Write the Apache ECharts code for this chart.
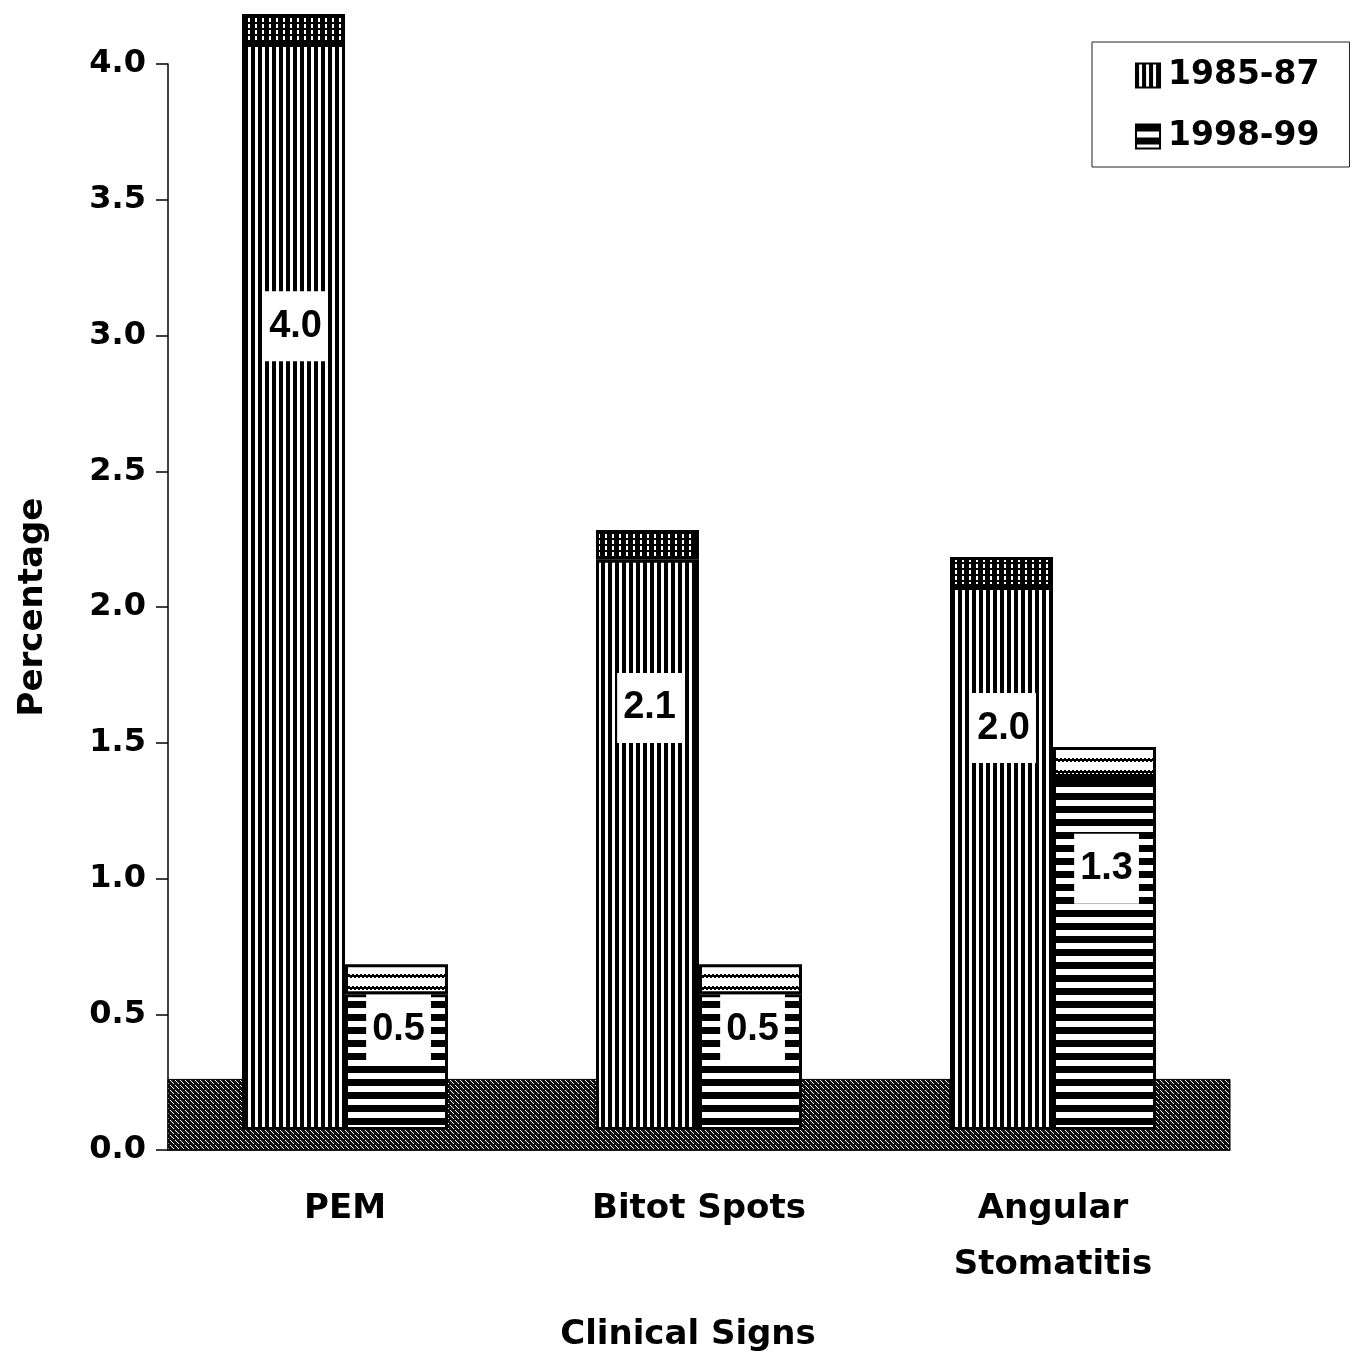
<!DOCTYPE html>
<html lang="en">
<head>
    <meta charset="UTF-8">
    <title>Clinical Signs</title>
    <script src="https://cdn.jsdelivr.net/npm/echarts@6/dist/echarts.min.js"></script>
    <style>
        body { margin: 0; background: #fff; }
    </style>
</head>
<body>
<div id="main" style="width: 1353px;height:1363px;"></div>
<script>
    // data
    var categories = ['PEM', 'Bitot Spots', 'Angular\nStomatitis'];
    var v1985 = [4.0, 2.1, 2.0];
    var v1998 = [0.5, 0.5, 1.3];
    var seriesNames = ['1985-87', '1998-99'];

    // fake 3d look: bars float a little above 0 and carry a cap on top
    var BASE = 0.074;
    var CAP = 0.11;
    var FLOOR = 0.26;

    function makePattern(w, h, draw) {
        var c = document.createElement('canvas');
        c.width = w;
        c.height = h;
        draw(c.getContext('2d'), w, h);
        return {image: c, repeat: 'repeat'};
    }

    var vStripes = makePattern(7, 8, function (ctx, w, h) {
        ctx.fillStyle = '#000';
        ctx.fillRect(0, 0, w, h);
        ctx.fillStyle = '#fff';
        ctx.fillRect(3, 0, 3, h);
    });
    var vDots = makePattern(7, 6, function (ctx, w, h) {
        ctx.fillStyle = '#000';
        ctx.fillRect(0, 0, w, h);
        ctx.fillStyle = '#fff';
        ctx.fillRect(3, 0, 2, 4);
    });
    var hStripes = makePattern(8, 13, function (ctx, w, h) {
        ctx.fillStyle = '#fff';
        ctx.fillRect(0, 0, w, h);
        ctx.fillStyle = '#000';
        ctx.fillRect(0, 0, w, 7);
    });
    var hCap = makePattern(8, 12, function (ctx, w, h) {
        ctx.fillStyle = '#fff';
        ctx.fillRect(0, 0, w, h);
        ctx.fillStyle = '#000';
        for (var x = 0; x < w; x++) {
            ctx.fillRect(x, (x % 4 < 2) ? 2 : 3, 1, 3);
        }
    });
    var floorPat = makePattern(5, 5, function (ctx, w, h) {
        ctx.fillStyle = '#111';
        ctx.fillRect(0, 0, w, h);
        ctx.fillStyle = '#fff';
        for (var i = 0; i < 4; i++) {
            ctx.fillRect(i, i, 1, 1);
        }
    });

    function fill(n, v) {
        var a = [];
        for (var i = 0; i < n; i++) a.push(v);
        return a;
    }

    var font = 'DejaVu Sans';
    var labelStyle = {
        show: true,
        position: ['52%', '26%'],
        align: 'center',
        verticalAlign: 'middle',
        formatter: function (p) { return p.value.toFixed(1); },
        fontFamily: 'Liberation Sans',
        fontSize: 38,
        fontWeight: 'bold',
        color: '#000',
        backgroundColor: '#fff',
        padding: [17, 6, 15, 6]
    };

    function group(name, values, face, cap, stack) {
        return [{
            name: name + ' base',
            type: 'bar',
            stack: stack,
            barWidth: 103,
            barGap: '0%',
            clip: false,
            silent: true,
            itemStyle: {color: 'transparent'},
            data: fill(values.length, BASE)
        }, {
            name: name,
            type: 'bar',
            stack: stack,
            barWidth: 103,
            barGap: '0%',
            clip: false,
            itemStyle: {color: face, borderColor: '#000', borderWidth: 3},
            label: labelStyle,
            data: values
        }, {
            name: name + ' cap',
            type: 'bar',
            stack: stack,
            barWidth: 103,
            barGap: '0%',
            clip: false,
            silent: true,
            itemStyle: {color: cap, borderColor: '#000', borderWidth: 3},
            data: fill(values.length, CAP)
        }];
    }

    var series = [].concat(
        group(seriesNames[0], v1985, vStripes, vDots, 'a'),
        group(seriesNames[1], v1998, hStripes, hCap, 'b')
    );
    // floor slab behind the bars
    series[0].markArea = {
        silent: true,
        itemStyle: {color: floorPat, borderColor: '#000', borderWidth: 1},
        data: [[{yAxis: 0}, {yAxis: FLOOR}]]
    };

    var myChart = echarts.init(document.getElementById('main'));
    var option = {
        animation: false,
        backgroundColor: '#fff',
        textStyle: {fontFamily: font},
        grid: {left: 168, right: 123, top: 64, bottom: 213},
        legend: {
            data: seriesNames,
            orient: 'vertical',
            left: 1092,
            top: 42,
            padding: [17, 30, 14, 43],
            itemGap: 28,
            itemWidth: 24,
            itemHeight: 24,
            icon: 'rect',
            backgroundColor: '#fff',
            borderColor: '#222',
            borderWidth: 1,
            itemStyle: {borderWidth: 2},
            textStyle: {fontFamily: font, fontSize: 33, fontWeight: 'bold', color: '#000', padding: [0, 0, 0, 3]}
        },
        xAxis: {
            type: 'category',
            data: categories,
            name: 'Clinical Signs',
            nameLocation: 'middle',
            nameGap: 168,
            nameTextStyle: {fontFamily: font, fontSize: 34, fontWeight: 'bold', color: '#000', padding: [0, 22, 0, 0]},
            axisLine: {lineStyle: {color: '#000', width: 1.5}},
            axisTick: {length: 15, lineStyle: {color: '#000', width: 1.5}},
            axisLabel: {
                margin: 31,
                fontFamily: font,
                fontSize: 34,
                fontWeight: 'bold',
                color: '#000',
                lineHeight: 56
            }
        },
        yAxis: {
            type: 'value',
            min: 0,
            max: 4,
            interval: 0.5,
            name: 'Percentage',
            nameLocation: 'middle',
            nameGap: 118,
            nameTextStyle: {fontFamily: font, fontSize: 34, fontWeight: 'bold', color: '#000'},
            axisLine: {show: true, lineStyle: {color: '#000', width: 1.5}},
            axisTick: {show: true, length: 12, lineStyle: {color: '#000', width: 1.5}},
            splitLine: {show: false},
            axisLabel: {
                margin: 22,
                fontFamily: font,
                fontSize: 32,
                fontWeight: 'bold',
                color: '#000',
                formatter: function (v) { return v.toFixed(1); }
            }
        },
        series: series
    };
    myChart.setOption(option);
</script>
</body>
</html>
